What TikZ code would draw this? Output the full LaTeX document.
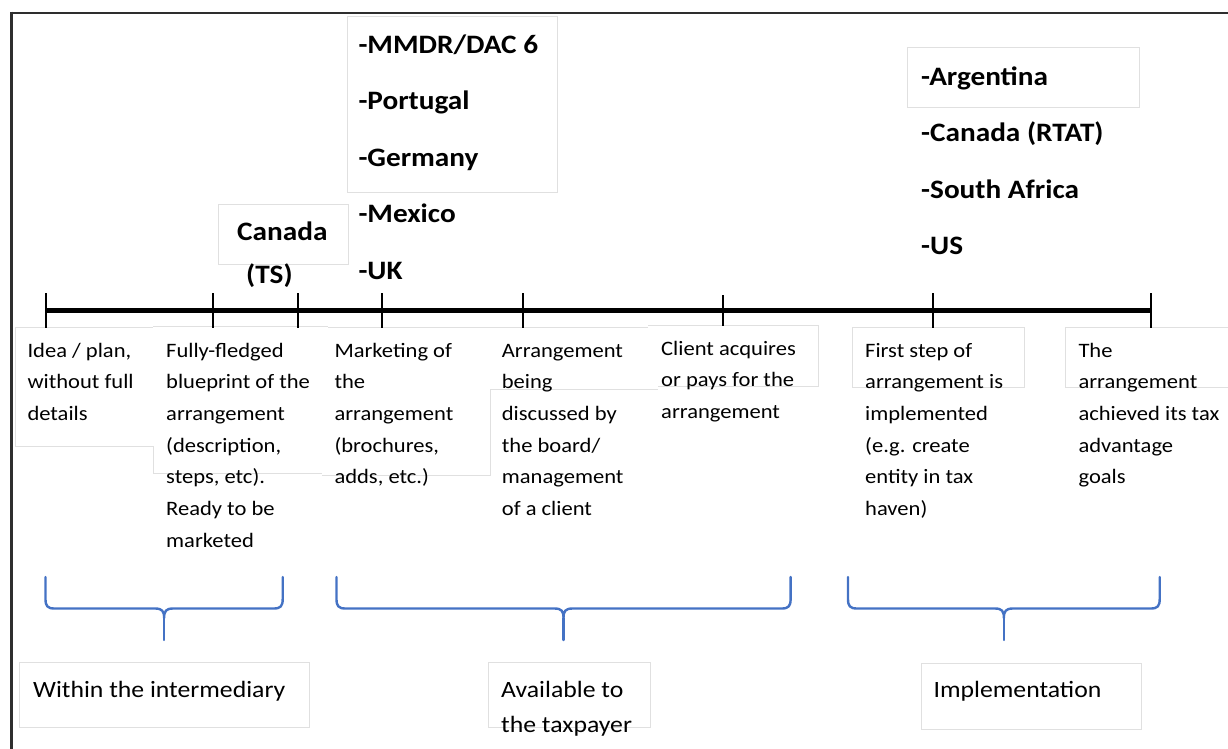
\documentclass[tikz,border=0pt]{standalone}
\usepackage{fontspec}
\setmainfont{Carlito}[FakeStretch=1.1]
\definecolor{braceblue}{HTML}{4472C4}
% a block of left-aligned lines whose baseline is the first line
\newcommand\txtlines[1]{\begin{tabular}[t]{@{}l@{}}#1\end{tabular}}
\begin{document}
\begin{tikzpicture}[x=1pt,y=-1pt,
  frame/.style={line width=2.6pt, draw=black!82},
  faint/.style={draw=black!12, line width=0.8pt},
  axis/.style={line width=4.2pt},
  tickmark/.style={line width=2.2pt},
  brace/.style={draw=braceblue, line width=2.4pt, line join=round, line cap=round},
  desc/.style={anchor=base west, inner sep=0pt, font=\fontsize{20.5}{31.7}\selectfont},
  boldlist/.style={anchor=base west, inner sep=0pt, font=\bfseries\fontsize{26.6}{56.5}\selectfont},
  phase/.style={anchor=base west, inner sep=0pt, font=\fontsize{23.4}{35}\selectfont}]
\useasboundingbox (0,0) rectangle (1228,748);

% outer frame (top and left edges)
\draw[frame] (11.5,13) -- (1232,13);
\draw[frame] (11.5,11.7) -- (11.5,752);

% faint outlines of the text boxes
\draw[faint] (218,204) rectangle (348,264);
\draw[faint] (347,16.5) rectangle (557,192.7);
\draw[faint] (907.7,47.7) rectangle (1139.3,107.7);
\draw[faint] (153,327.3) -- (15,327.3) -- (15,446.7) -- (153,446.7) -- (153,473.3) -- (322,473.3);
\draw[faint] (153,326) -- (328,326);
\draw[faint] (328,327.3) -- (648,327.3);
\draw[faint] (322,475.7) -- (490.7,475.7) -- (490.7,389.3) -- (658,389.3);
\draw[faint] (648,325) -- (818,325) -- (818,386) -- (658,386);
\draw[faint] (852.3,327.3) rectangle (1024,387.7);
\draw[faint] (1232,327.3) -- (1065,327.3) -- (1065,387.7) -- (1232,387.7);
\draw[faint] (19.6,662) rectangle (309,727);
\draw[faint] (488,662) rectangle (650,727);
\draw[faint] (921.7,663) rectangle (1141.7,729);

% timeline
\coordinate (tstart) at (46,310.5);
\coordinate (tend) at (1151,310.5);
\draw[axis] (tstart) -- (tend);
\foreach \x in {46,213.3,298.3,381.7,523.3,933.3,1151}
  \draw[tickmark] (\x,293) -- (\x,328);
\draw[tickmark] (723.3,295) -- (723.3,326);

% regulations above the timeline
\node[boldlist, font=\bfseries\fontsize{26.6}{42.3}\selectfont] (canada) at (237,240.7) {\txtlines{Canada\\\hspace*{9pt}(TS)}};
\node[boldlist] (mdr) at (358.3,53) {\txtlines{-MMDR/DAC 6\\-Portugal\\-Germany\\-Mexico\\-UK}};
\node[boldlist] (rtat) at (921,85) {\txtlines{-Argentina\\-Canada (RTAT)\\-South Africa\\-US}};

% stages below the timeline
\node[desc] (idea) at (27.3,357) {\txtlines{Idea / plan,\\without full\\details}};
\node[desc] (blueprint) at (166,357) {\txtlines{Fully-fledged\\blueprint of the\\arrangement\\(description,\\steps, etc).\\Ready to be\\marketed}};
\node[desc] (marketing) at (334.3,357) {\txtlines{Marketing of\\the\\arrangement\\(brochures,\\adds, etc.)}};
\node[desc] (board) at (501.7,357) {\txtlines{Arrangement\\being\\discussed by\\the board/\\management\\of a client}};
\node[desc] (acquire) at (661,355) {\txtlines{Client acquires\\or pays for the\\arrangement}};
\node[desc] (firststep) at (865,357) {\txtlines{First step of\\arrangement is\\implemented\\(e.g. create\\entity in tax\\haven)}};
\node[desc] (achieved) at (1078.3,357) {\txtlines{The\\arrangement\\achieved its tax\\advantage\\goals}};

% grouping braces
\newcommand\curlybrace[3]{%
  \draw[brace] (#1,577) -- (#1,599)
    .. controls (#1,606) and ({#1+2},608.5) .. ({#1+9},608.5)
    -- ({#2-9},608.5)
    .. controls ({#2-2},608.5) and (#2,611) .. (#2,618)
    .. controls (#2,611) and ({#2+2},608.5) .. ({#2+9},608.5)
    -- ({#3-9},608.5)
    .. controls ({#3-2},608.5) and (#3,606) .. (#3,599) -- (#3,577);
  \draw[brace] (#2,618) -- (#2,640);}
\curlybrace{45.5}{164.1}{282.7}
\curlybrace{336.5}{563.5}{790.6}
\curlybrace{848}{1003.9}{1159.7}

% phase labels
\node[phase] (intermediary) at (32.9,697) {Within the intermediary};
\node[phase] (available) at (501,697) {\txtlines{Available to\\the taxpayer}};
\node[phase] (implementation) at (933.4,697) {Implementation};
\end{tikzpicture}
\end{document}
